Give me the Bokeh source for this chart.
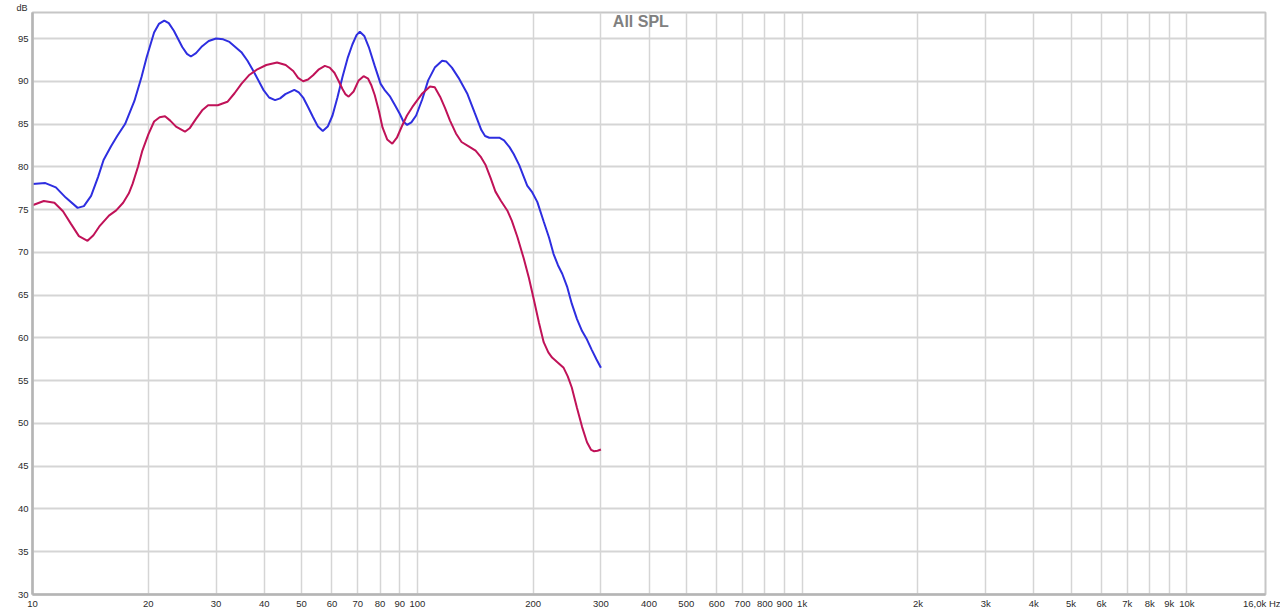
from bokeh.plotting import figure
from bokeh.models import FixedTicker, Label, Range1d, Title
from bokeh.embed import file_html
from bokeh.resources import INLINE

# ---- data ----
freq_blue = [10, 10.8, 11.5, 12.2, 13.1, 13.6, 14.2, 14.8, 15.3, 16.0, 16.6, 17.4,
             18.4, 19.2, 19.8, 20.7, 21.3, 22.0, 22.6, 23.3, 24.5, 25.2, 25.8, 26.6,
             27.6, 28.7, 30.0, 31.3, 32.5, 34.9, 36.2, 37.5, 39.8, 41.2, 42.7, 44.0,
             45.4, 47.9, 49.2, 50.5, 52.0, 53.6, 55.2, 56.8, 58.5, 60.2, 62.0, 63.9,
             66.0, 67.8, 69.5, 70.9, 72.8, 74.8, 77.5, 80.3, 82.5, 85.0, 87.5, 90.0,
             92.0, 94.1, 96.5, 99.3, 103, 106.7, 111, 116, 119, 123, 128, 135, 141,
             146.7, 150, 153.8, 158, 163.3, 168, 173.6, 178, 184, 193, 199, 205, 213,
             220, 226, 232, 238, 245, 252, 260, 268, 276, 284, 292, 300]
spl_blue = [78.0, 78.1, 77.6, 76.4, 75.2, 75.4, 76.6, 78.8, 80.8, 82.4, 83.6, 85.0,
            87.7, 90.5, 92.8, 95.7, 96.7, 97.1, 96.8, 95.9, 94.0, 93.2, 92.9, 93.3,
            94.1, 94.7, 95.0, 94.9, 94.6, 93.4, 92.4, 91.2, 89.0, 88.1, 87.8, 88.0,
            88.5, 89.0, 88.7, 88.1, 87.0, 85.8, 84.7, 84.2, 84.7, 86.0, 88.1, 90.5,
            92.8, 94.3, 95.4, 95.8, 95.3, 94.0, 91.8, 89.7, 88.9, 88.2, 87.2, 86.2,
            85.3, 84.9, 85.2, 86.0, 87.9, 90.1, 91.6, 92.4, 92.3, 91.6, 90.4, 88.5, 86.3,
            84.3, 83.6, 83.4, 83.4, 83.4, 83.1, 82.3, 81.5, 80.2, 77.8, 77.0, 75.9, 73.6,
            71.7, 69.8, 68.5, 67.5, 66.0, 64.0, 62.2, 60.8, 59.8, 58.6, 57.5, 56.5]

freq_red = [10, 10.7, 11.4, 12.0, 12.6, 13.2, 13.9, 14.4, 14.9, 15.8, 16.5, 17.2,
            17.8, 18.2, 18.8, 19.3, 20.0, 20.7, 21.4, 22.1, 22.8, 23.6, 24.9, 25.6,
            26.6, 27.6, 28.6, 30.3, 32.1, 33.5, 34.9, 36.5, 38.4, 40.5, 43.2, 45.5,
            47.6, 49.0, 50.5, 52.0, 53.6, 55.5, 57.5, 59.2, 60.9, 62.5, 63.9, 65.0,
            66.3, 68.3, 70.4, 72.5, 74.5, 76.0, 77.5, 79.5, 81.2, 83.5, 86.1, 88.5,
            91.3, 94, 97.1, 102.7, 107.9, 111, 114.6, 118, 121.6, 126, 130.3, 136,
            141.7, 146, 150.5, 155, 159.6, 165, 171.3, 176, 182, 189, 195, 201, 207,
            213, 219, 224, 232, 240, 246, 252, 260, 268, 276, 283, 288, 294, 300]
spl_red = [75.5, 76.0, 75.8, 74.8, 73.3, 71.9, 71.35, 72.0, 73.0, 74.3, 74.9, 75.8,
           76.9, 78.0, 80.0, 81.9, 83.8, 85.3, 85.8, 85.9, 85.4, 84.7, 84.1, 84.5,
           85.6, 86.6, 87.2, 87.2, 87.6, 88.6, 89.7, 90.7, 91.4, 91.9, 92.2, 91.9,
           91.2, 90.4, 90.0, 90.2, 90.7, 91.4, 91.8, 91.6, 91.0, 90.0, 89.1, 88.5,
           88.2, 88.8, 90.1, 90.6, 90.3, 89.5, 88.4, 86.5, 84.6, 83.2, 82.7, 83.4,
           84.8, 86.0, 87.0, 88.5, 89.4, 89.3, 88.2, 86.9, 85.4, 83.9, 82.9, 82.4,
           81.9, 81.2, 80.2, 78.7, 77.1, 76.0, 74.9, 73.7, 71.8, 69.3, 67.0, 64.4, 61.8,
           59.5, 58.3, 57.7, 57.1, 56.5, 55.5, 54.2, 51.8, 49.6, 47.8, 46.9, 46.75, 46.8, 46.95]

x_ticks = [10, 20, 30, 40, 50, 60, 70, 80, 90,
           100, 200, 300, 400, 500, 600, 700, 800, 900,
           1000, 2000, 3000, 4000, 5000, 6000, 7000, 8000, 9000, 10000]
x_tick_labels = ["10", "20", "30", "40", "50", "60", "70", "80", "90",
                 "100", "200", "300", "400", "500", "600", "700", "800", "900",
                 "1k", "2k", "3k", "4k", "5k", "6k", "7k", "8k", "9k", "10k"]
x_end_tick = 16000
x_end_label = "16,0k Hz"
y_ticks = [30, 35, 40, 45, 50, 55, 60, 65, 70, 75, 80, 85, 90, 95]
y_unit_label = "dB"
chart_title = "All SPL"

FONT = "Liberation Sans"
GRID = "#d5d5d5"
TXT = "#2b2b2b"
FS = "9.5px"

p = figure(width=1280, height=611, x_axis_type="log",
           x_range=Range1d(10, 16000), y_range=Range1d(30, 98.04),
           output_backend="svg", toolbar_location=None,
           min_border_left=32, min_border_right=15, min_border_top=10, min_border_bottom=17)
p.background_fill_color = "white"
p.border_fill_color = "white"
p.outline_line_color = "#c6c6c6"
p.outline_line_width = 2

all_x_ticks = x_ticks + [x_end_tick]
p.xaxis.ticker = FixedTicker(ticks=all_x_ticks)
p.xaxis.major_label_overrides = {t: l for t, l in zip(all_x_ticks, x_tick_labels + [x_end_label])}
p.yaxis.ticker = FixedTicker(ticks=y_ticks)
for ax in (p.xaxis, p.yaxis):
    ax.major_tick_line_color = None
    ax.minor_tick_line_color = None
    ax.major_tick_out = 0
    ax.major_tick_in = 0
    ax.minor_tick_out = 0
    ax.minor_tick_in = 0
    ax.axis_line_color = "#b5b5b5"
    ax.axis_line_width = 2.5
    ax.major_label_text_font = FONT
    ax.major_label_text_font_size = FS
    ax.major_label_text_color = TXT
p.xaxis.major_label_standoff = 3
p.yaxis.major_label_standoff = 4

p.xgrid.ticker = FixedTicker(ticks=x_ticks)
p.xgrid.grid_line_color = GRID
p.xgrid.grid_line_width = 1.5
p.ygrid.grid_line_color = GRID
p.ygrid.grid_line_width = 2

p.line(freq_blue, spl_blue, line_color="#2e2ee0", line_width=2)
p.line(freq_red, spl_red, line_color="#c01258", line_width=2)

p.add_layout(Label(x=381, y=97.0, text=chart_title, text_align="center",
                   text_baseline="middle", text_font=FONT, text_font_size="16px",
                   text_font_style="bold", text_color="#808080"))
p.add_layout(Title(text=y_unit_label, align="left", offset=-16, standoff=0,
                   text_font=FONT, text_font_size="9px", text_font_style="normal",
                   text_line_height=0.9, text_color=TXT), "above")

open("out.html", "w").write(file_html(p, INLINE))
